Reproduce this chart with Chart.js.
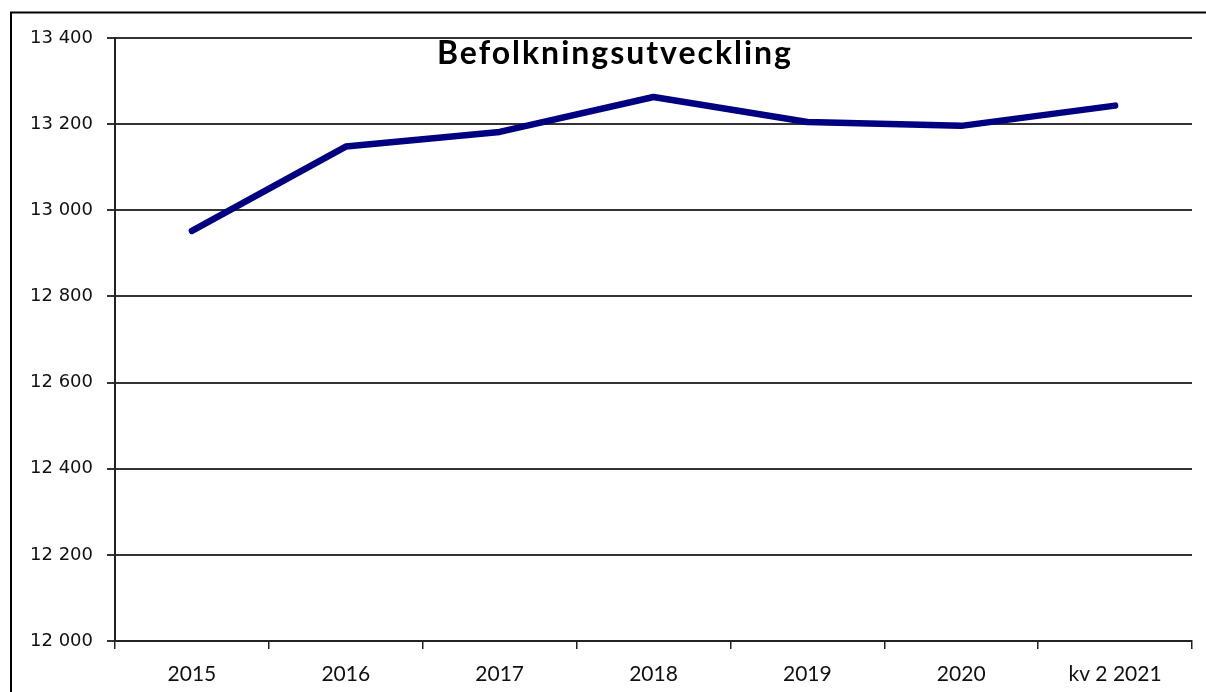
<!DOCTYPE html>
<html>
<head>
<meta charset="utf-8">
<script src="https://cdn.jsdelivr.net/npm/chart.js@4/dist/chart.umd.min.js"></script>
<style>
  html, body { margin: 0; padding: 0; background: #fff; }
  #wrap { position: relative; width: 1206px; height: 692px; }
</style>
</head>
<body>
<div id="wrap"><canvas id="c" width="1206" height="692"></canvas></div>
<script>
const chartTitle = 'Befolkningsutveckling';
const categories = ['2015', '2016', '2017', '2018', '2019', '2020', 'kv 2 2021'];
const population = [12952, 13148, 13182, 13263, 13205, 13196, 13243];
const yMin = 12000;
const yMax = 13400;
const yStep = 200;

function fmt(v) {
  return String(v).replace(/\B(?=(\d{3})+(?!\d))/g, ' ');
}

const framePlugin = {
  id: 'frame',
  beforeDraw(chart) {
    const ctx = chart.ctx;
    ctx.save();
    ctx.fillStyle = '#fff';
    ctx.fillRect(0, 0, chart.width, chart.height);
    ctx.strokeStyle = '#000';
    ctx.lineWidth = 2;
    ctx.beginPath();
    ctx.moveTo(11, chart.height + 2);
    ctx.lineTo(11, 12.5);
    ctx.lineTo(chart.width + 4, 12.5);
    ctx.stroke();
    ctx.restore();
  },
  afterDatasetsDraw(chart) {
    const ctx = chart.ctx;
    ctx.save();
    ctx.font = 'bold 32px Lato, "Open Sans", sans-serif';
    ctx.fillStyle = '#000';
    ctx.textAlign = 'center';
    ctx.textBaseline = 'alphabetic';
    const target = 356;
    const w = ctx.measureText(chartTitle).width;
    if ('letterSpacing' in ctx) {
      ctx.letterSpacing = ((target - w) / chartTitle.length).toFixed(2) + 'px';
    }
    ctx.fillText(chartTitle, 615, 64);
    ctx.restore();
  }
};

new Chart(document.getElementById('c'), {
  type: 'line',
  data: {
    labels: categories,
    datasets: [{
      data: population,
      borderColor: '#000080',
      borderWidth: 6.5,
      borderCapStyle: 'round',
      borderJoinStyle: 'round',
      pointRadius: 0,
      pointHoverRadius: 0,
      tension: 0,
      fill: false
    }]
  },
  options: {
    responsive: false,
    animation: false,
    events: [],
    layout: { padding: { left: 0, right: 14, top: 38, bottom: 0 } },
    plugins: {
      legend: { display: false },
      title: { display: false },
      tooltip: { enabled: false }
    },
    scales: {
      x: {
        type: 'category',
        offset: true,
        afterFit(scale) { scale.height = 51; },
        grid: {
          offset: true,
          drawOnChartArea: false,
          drawTicks: true,
          tickLength: 8,
          color: '#222',
          lineWidth: 1.5
        },
        border: { display: true, color: '#222', width: 2 },
        ticks: {
          color: '#111',
          padding: 13,
          maxRotation: 0,
          autoSkip: false,
          font: { family: 'Lato, "Open Sans", sans-serif', size: 21 }
        }
      },
      y: {
        min: yMin,
        max: yMax,
        afterFit(scale) { scale.width = 115; },
        grid: {
          drawTicks: true,
          tickLength: 8,
          color: '#333',
          lineWidth: 2
        },
        border: { display: true, color: '#222', width: 2 },
        ticks: {
          stepSize: yStep,
          padding: 14,
          color: '#111',
          font: { family: '"DejaVu Sans", sans-serif', size: 18 },
          callback: (v) => fmt(v)
        }
      }
    }
  },
  plugins: [framePlugin]
});
</script>
</body>
</html>
